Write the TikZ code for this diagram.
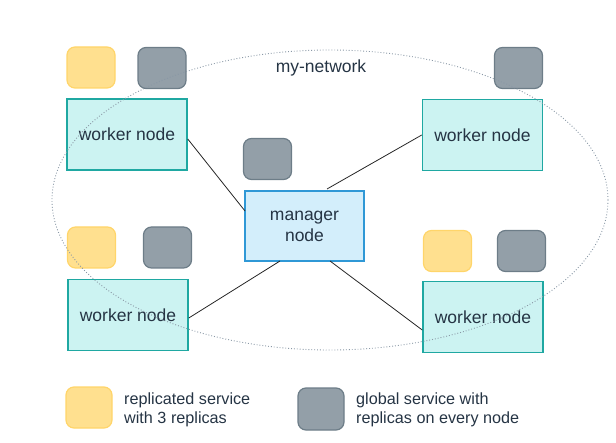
\documentclass[tikz,border=0pt]{standalone}
\usepackage{fontspec}
\setmainfont{Liberation Sans}
\definecolor{txt}{HTML}{253444}
\definecolor{wfill}{HTML}{CCF3F2}
\definecolor{wdraw}{HTML}{1FA8A2}
\definecolor{mfill}{HTML}{D3EEFB}
\definecolor{mdraw}{HTML}{2F98D6}
\definecolor{yfill}{HTML}{FFE08F}
\definecolor{ydraw}{HTML}{FFD56A}
\definecolor{gfill}{HTML}{939FA8}
\definecolor{gdraw}{HTML}{6D7D88}
\definecolor{ell}{HTML}{8A98A6}
\begin{document}
\begin{tikzpicture}[x=1bp,y=-1bp,
  worker/.style={draw=wdraw,fill=wfill,line width=1.5bp,minimum width=120bp,minimum height=71bp,inner sep=0pt,text=txt,font=\fontsize{17.5bp}{21bp}\selectfont},
  manager/.style={draw=mdraw,fill=mfill,line width=1.5bp,minimum width=119bp,minimum height=70bp,inner sep=0pt,text=txt,align=center,font=\fontsize{17.5bp}{21bp}\selectfont},
  repl/.style={draw=ydraw,fill=yfill,line width=1.2bp,rounded corners=8bp,minimum width=48bp,minimum height=41bp,inner sep=0pt},
  glob/.style={draw=gdraw,fill=gfill,line width=1.2bp,rounded corners=8bp,minimum width=48bp,minimum height=41bp,inner sep=0pt},
  link/.style={draw=black!85,line width=0.8bp},
  legtext/.style={anchor=west,align=left,text=txt,inner sep=0pt,font=\fontsize{16.2bp}{19bp}\selectfont}
]
\useasboundingbox (0,0) rectangle (616,443);
\node[text=txt,font=\fontsize{17.5bp}{21bp}\selectfont,inner sep=0pt] (net) at (321,68) {my-network};
% workers
\node[worker] (w1) at (127,134.5) {worker node};
\node[worker] (w2) at (482.5,135) {worker node};
\node[worker] (w3) at (128,315) {worker node};
\node[worker] (w4) at (483,317) {worker node};
\node[manager] (m) at (304.5,226) {manager\\node};
% services
\node[repl] (y1) at (91,67.5) {};
\node[glob] (g1) at (162,68) {};
\node[glob] (g2) at (518.5,68) {};
\node[glob] (g0) at (267.5,159) {};
\node[repl] (y3) at (91.5,247.5) {};
\node[glob] (g3) at (167.5,247.5) {};
\node[repl] (y4) at (447.5,251) {};
\node[glob] (g4) at (521.5,251) {};
% links
\coordinate (m1) at (245,211);
\coordinate (m2) at (327,189);
\coordinate (m3) at (280,261);
\coordinate (m4) at (330,261);
\draw[link] (w1.east |- 0,139) -- (m1);
\draw[link] (w2.west |- 0,135) -- (m2);
\draw[link] (w3.east |- 0,318) -- (m3);
\draw[link] (m4) -- (w4.west |- 0,330);
% network ellipse (drawn over the nodes)
\draw[ell,dotted,line width=0.9bp] (330,200) ellipse [x radius=278, y radius=150];
% legend
\node[repl,minimum width=46bp,minimum height=41bp] (ly) at (89,407.5) {};
\node[legtext] (lyt) at (124,409.5) {replicated service\\with 3 replicas};
\node[glob,minimum width=46bp,minimum height=42bp] (lg) at (321,409) {};
\node[legtext] (lgt) at (356,409.5) {global service with\\replicas on every node};
\end{tikzpicture}
\end{document}
